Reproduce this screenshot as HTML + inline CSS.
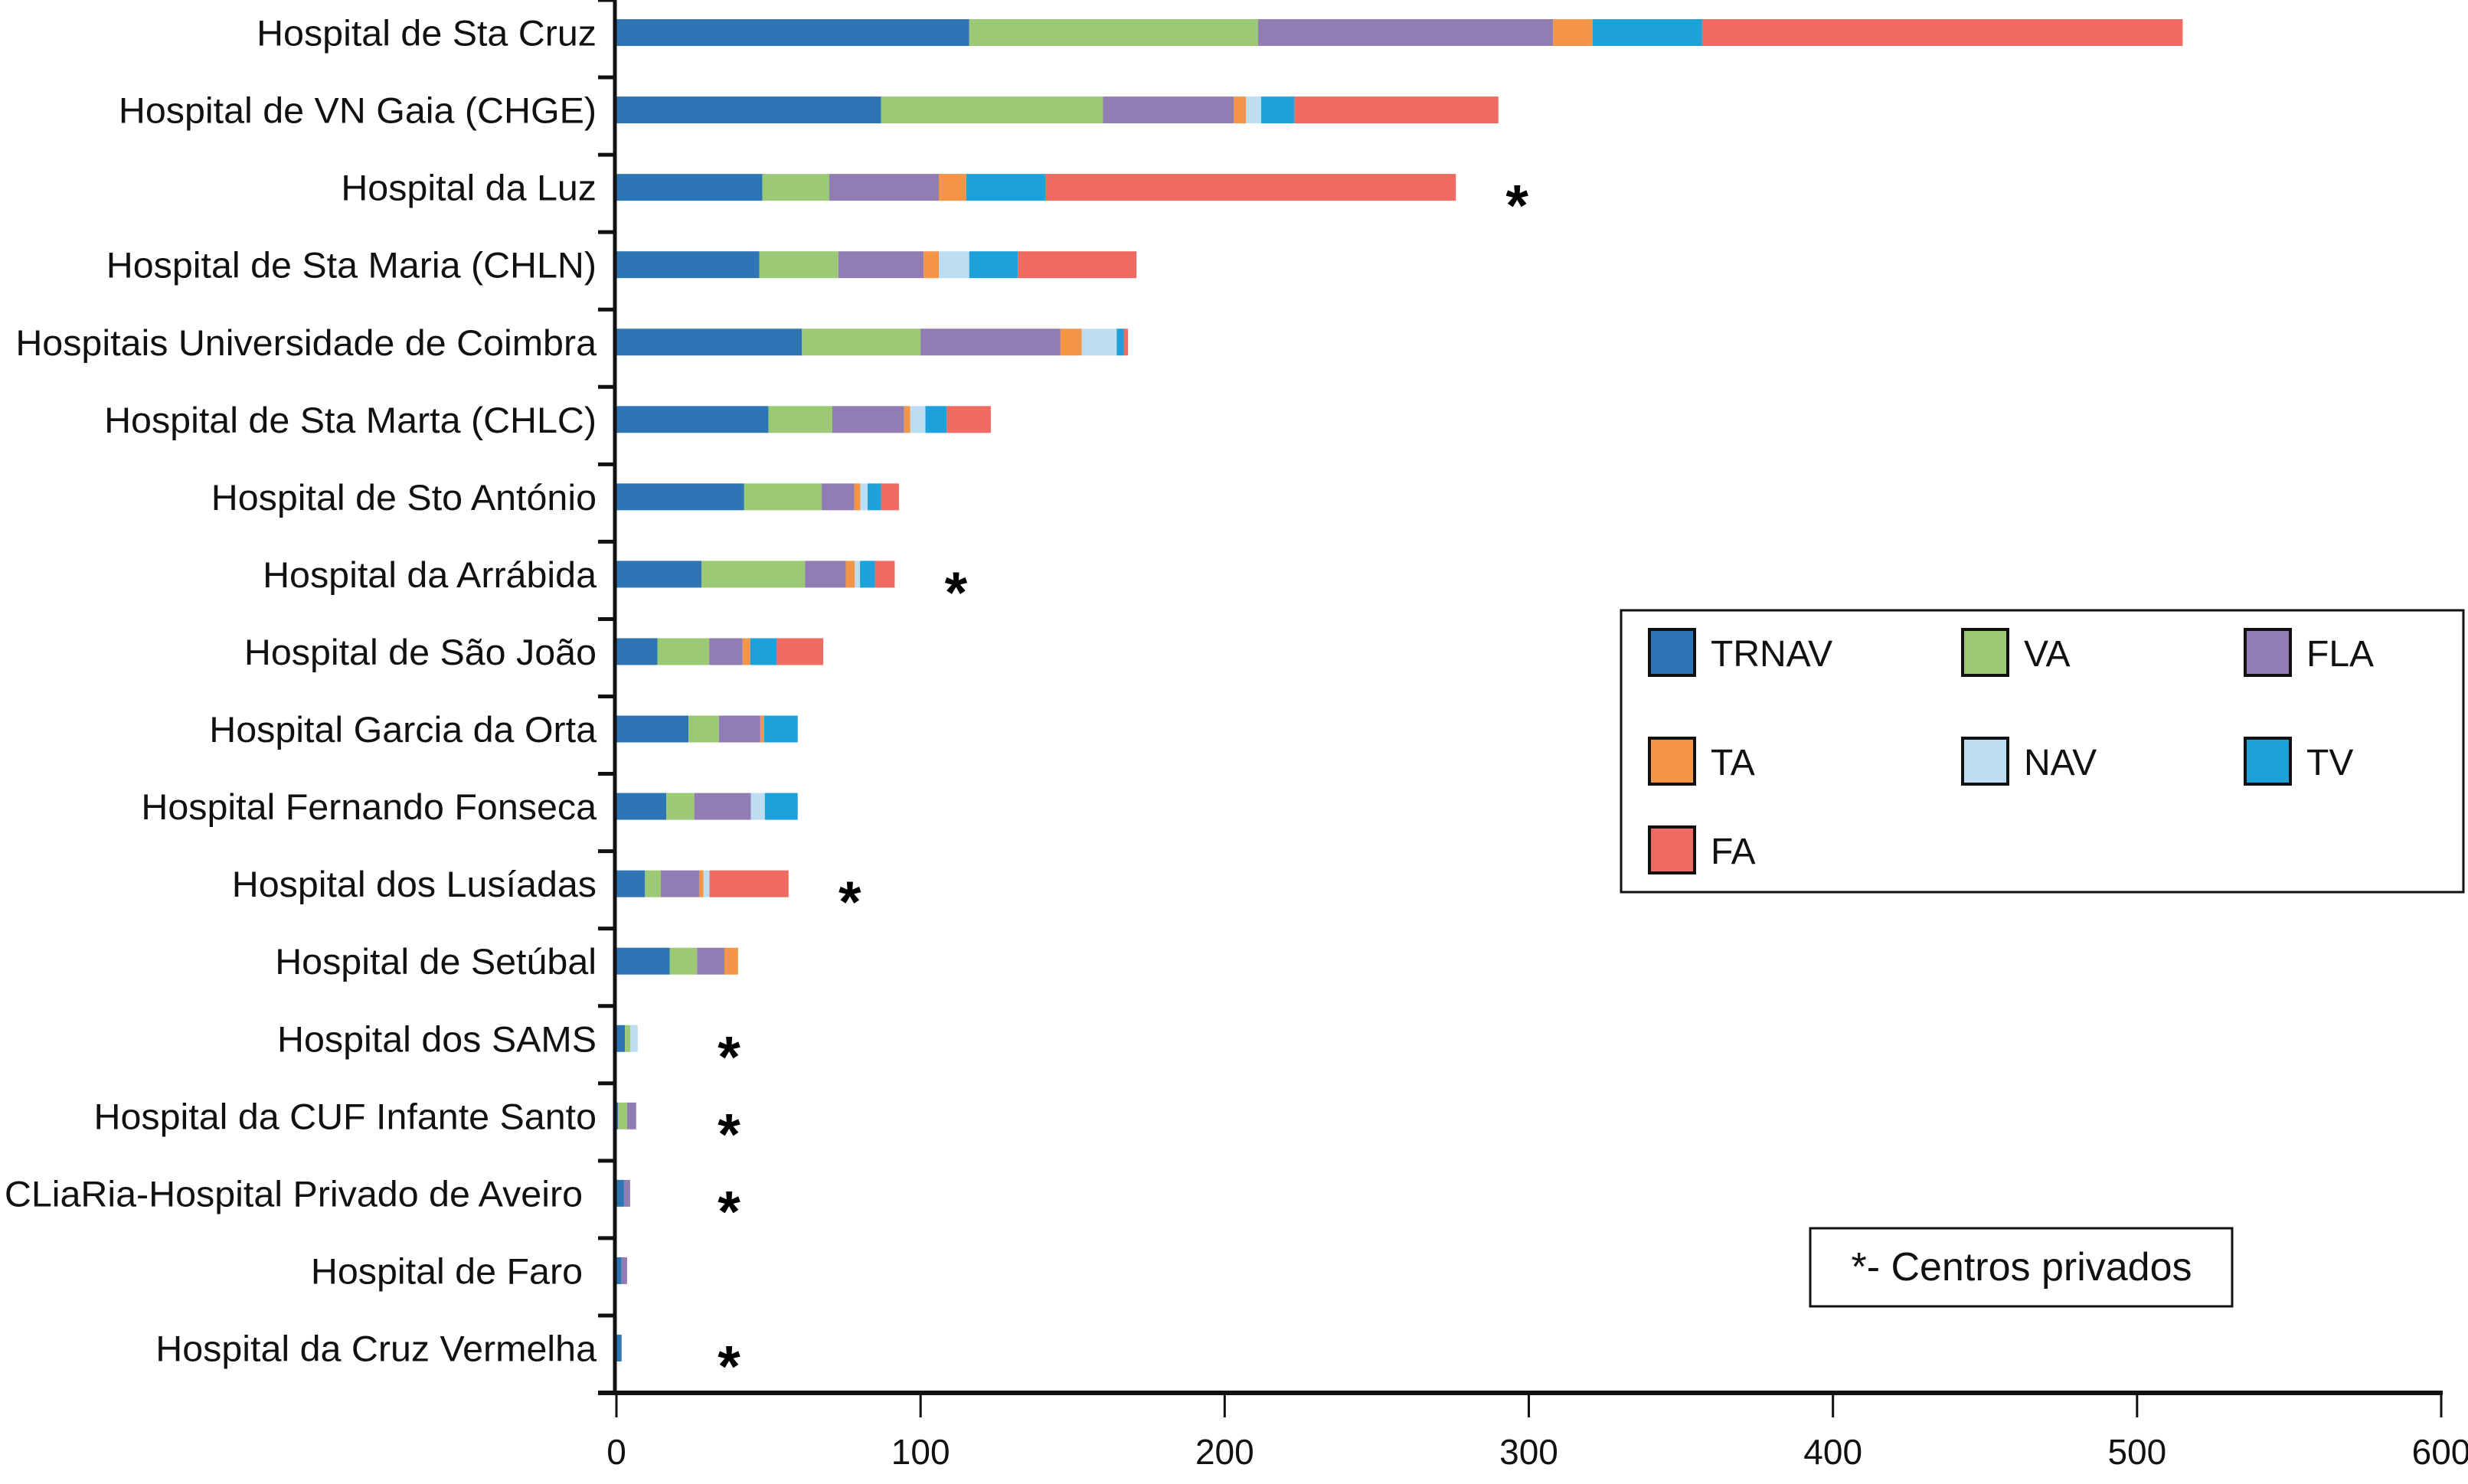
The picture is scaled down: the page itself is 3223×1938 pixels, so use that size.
<!DOCTYPE html>
<html><head><meta charset="utf-8"><style>
html,body{margin:0;padding:0;background:#fff;}
svg{display:block;font-family:"Liberation Sans",Arial,sans-serif;}
</style></head><body>
<svg id="chart" width="3223" height="1938" viewBox="0 0 3223 1938" xmlns="http://www.w3.org/2000/svg">
<g id="bars"></g>
<g id="yaxis"></g>
<g id="xaxis"></g>
<g id="stars"></g>
<g id="legend"></g>
<g>
<rect x="2364" y="1604" width="551" height="102" fill="#fff" stroke="#111" stroke-width="3"/>
<text x="2640" y="1672" font-size="52" text-anchor="middle" fill="#111">*- Centros privados</text>
</g>
</svg>
<script>
const categories = ["Hospital de Sta Cruz","Hospital de VN Gaia (CHGE)","Hospital da Luz","Hospital de Sta Maria (CHLN)","Hospitais Universidade de Coimbra","Hospital de Sta Marta (CHLC)","Hospital de Sto António","Hospital da Arrábida","Hospital de São João","Hospital Garcia da Orta","Hospital Fernando Fonseca","Hospital dos Lusíadas","Hospital de Setúbal","Hospital dos SAMS","Hospital da CUF Infante Santo","CLiaRia-Hospital Privado de Aveiro","Hospital de Faro","Hospital da Cruz Vermelha"];
const seriesNames = ["TRNAV","VA","FLA","TA","NAV","TV","FA"];
const TRNAV = [116,87,48,47,61,50,42,28,13.5,23.7,16.4,9.4,17.5,2.8,0.5,2.5,1.7,1.7];
const VA    = [95,73,22,26,39,21,25.5,34,17,10,9.2,5.2,9,1.8,3,0,0,0];
const FLA   = [97,43,36,28,46,23.6,10.7,13.4,11,13.6,18.6,12.6,9,0,3,2,1.8,0];
const TA    = [13,4,9,5,7,2,2,3,2.5,1.3,0,1.4,4.5,0,0,0,0,0];
const NAV   = [0,5,0,10,11.5,5,2.4,1.7,0,0,4.6,2,0,2.4,0,0,0,0];
const TV    = [36,11,26,16,2.3,7,4.4,4.9,8.7,11,10.8,0,0,0,0,0,0,0];
const FA    = [158,67,135,39,1.4,14.5,5.9,6.5,15.3,0,0,26,0,0,0,0,0,0];
const privateFlags = [0,0,1,0,0,0,0,1,0,0,0,1,0,1,1,1,0,1];
const xTicks = [0,100,200,300,400,500,600];
const series = [TRNAV,VA,FLA,TA,NAV,TV,FA];
const colors = ["#2E75B6","#9BC975","#927CB4","#F39447","#BDDDF3","#1DA1DB","#EF6A61"];

const NS="http://www.w3.org/2000/svg";
const X0=805, X1=3188, XMAX=600, YTOP=0, YBOT=1819, BAR_H=35;
const band=(YBOT-YTOP)/categories.length;
function xs(v){return X0+(X1-X0)*v/XMAX;}
function yc(i){return YTOP+band*i+band/2-8;}
function mk(tag,attrs,parent){const e=document.createElementNS(NS,tag);for(const k in attrs)e.setAttribute(k,attrs[k]);parent.appendChild(e);return e;}

const gb=document.getElementById('bars');
categories.forEach((c,i)=>{
  let acc=0;
  series.forEach((s,j)=>{
    const v=s[i]; if(v<=0) return;
    const r=mk('rect',{x:xs(acc),y:yc(i)-BAR_H/2,width:xs(acc+v)-xs(acc),height:BAR_H,fill:colors[j]},gb);
    
    
    acc+=v;
  });
});

const gy=document.getElementById('yaxis');
mk('line',{x1:X0-2,y1:YTOP,x2:X0-2,y2:YBOT,stroke:"#111","stroke-width":5},gy);
for(let i=0;i<=categories.length;i++){
  mk('line',{x1:781,y1:YTOP+band*i,x2:X0,y2:YTOP+band*i,stroke:"#111","stroke-width":5},gy);
}
categories.forEach((c,i)=>{
  const off=(i===15||i===16)?-18:0;
  const t=mk('text',{transform:`translate(${779+off},${yc(i)+17}) scale(1.03,1)`,"font-size":47,"text-anchor":"end",fill:"#111"},gy);
  t.textContent=c;
  
  
});

const gx=document.getElementById('xaxis');
mk('line',{x1:781,y1:YBOT,x2:X1+2,y2:YBOT,stroke:"#111","stroke-width":6},gx);
xTicks.forEach(v=>{
  mk('line',{x1:xs(v),y1:YBOT,x2:xs(v),y2:YBOT+32,stroke:"#111","stroke-width":3},gx);
  const t=mk('text',{x:xs(v),y:1912,"font-size":46,"text-anchor":"middle",fill:"#111"},gx);
  t.textContent=v;
  
  
});

const gs=document.getElementById('stars');
categories.forEach((c,i)=>{
  if(!privateFlags[i]) return;
  let tot=0; series.forEach(s=>tot+=s[i]);
  const px=Math.max(xs(tot)+80, 952);
  const t=mk('text',{x:px,y:yc(i)+50,"font-size":76,"font-weight":"bold","text-anchor":"middle",fill:"#000"},gs);
  t.textContent='*';
  
  
});

const gl=document.getElementById('legend');
mk('rect',{x:2117,y:797,width:1100,height:368,fill:"#fff",stroke:"#111","stroke-width":3},gl);
const lcols=[2154,2563,2932], lrows=[822,964,1080];
seriesNames.forEach((n,j)=>{
  const cx=lcols[j%3], cy=lrows[Math.floor(j/3)];
  const g=mk('g',{},gl);
  
  
  mk('rect',{x:cx,y:cy,width:59,height:60,fill:colors[j],stroke:"#111","stroke-width":4},g);
  const t=mk('text',{x:cx+80,y:cy+48,"font-size":48,fill:"#111"},g);
  t.textContent=n;
});
</script>
</body></html>
